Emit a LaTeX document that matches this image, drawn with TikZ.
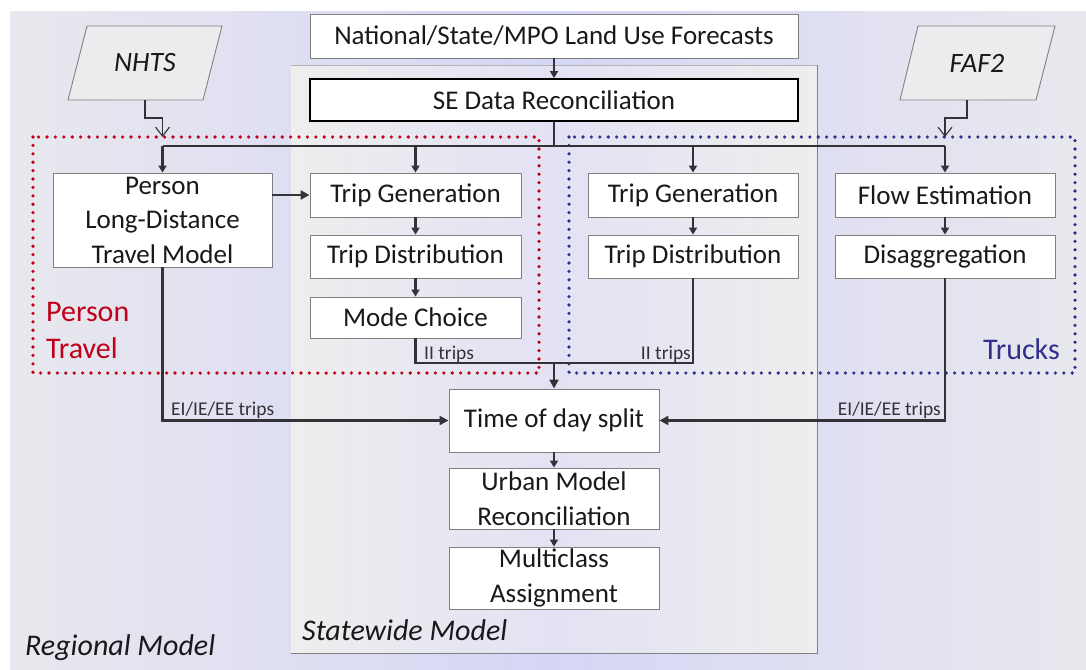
\documentclass[tikz,border=0pt]{standalone}
\usepackage{fontspec}
\setmainfont{Carlito}
\usetikzlibrary{arrows.meta,calc}
\definecolor{rgray}{RGB}{232,232,238}
\definecolor{rlav}{RGB}{214,214,246}
\definecolor{sgray}{RGB}{238,238,238}
\definecolor{slav}{RGB}{226,226,244}
\definecolor{boxgray}{RGB}{128,128,128}
\definecolor{linec}{RGB}{50,50,55}
\definecolor{txt}{RGB}{25,25,25}
\definecolor{pred}{RGB}{192,0,24}
\definecolor{tblue}{RGB}{48,48,140}
\definecolor{paragray}{RGB}{236,236,238}
\tikzset{
  box/.style={draw=boxgray, fill=white, line width=0.9pt, inner sep=0pt, align=center,
    text=txt, font=\fontsize{27}{34.5}\selectfont},
  conn/.style={draw=linec, line width=2.2pt},
  arr/.style={conn, -{Triangle[length=9pt,width=9pt]}},
  sarr/.style={conn, -{Triangle[length=7pt,width=8pt]}},
  vee/.style={draw=linec, line width=1.1pt, -{Straight Barb[length=9pt,width=14pt]}},
  lbl/.style={font=\fontsize{19.5}{21}\selectfont, inner sep=1pt, text=linec},
  dotrect/.style={line width=3.6pt, line cap=round, dash pattern=on 0pt off 8.4pt},
  para/.style={draw=boxgray, fill=paragray, line width=0.9pt}
}
\begin{document}
\begin{tikzpicture}[x=1pt,y=-1pt]
\useasboundingbox (0,0) rectangle (1086,669);
\fill[white] (0,0) rectangle (1086,669);
% regional background
\shade[left color=rgray, right color=rgray, middle color=rlav] (10,12) rectangle (1086,669);
% statewide background
\shade[left color=sgray, right color=sgray, middle color=slav] (291,65) rectangle (817,653);
\draw[boxgray!60, line width=0.8pt] (291,65) -- (817,65);
\draw[boxgray, line width=1pt] (817,65) -- (817,653) -- (291,653);

% dotted groups
\draw[dotrect, pred] (33,137) rectangle (539,373);
\draw[dotrect, tblue] (569,137) rectangle (1075,373);

% parallelograms
\draw[para] (87,26) -- (222,26) -- (203,100) -- (68,100) -- cycle;
\node[font=\fontsize{28}{30}\selectfont\itshape, text=txt, minimum width=135, minimum height=74, inner sep=0] (nhts) at (145,63) {NHTS};
\draw[para] (918,26) -- (1055,26) -- (1036,100) -- (900,100) -- cycle;
\node[font=\fontsize{28}{30}\selectfont\itshape, text=txt, minimum width=135, minimum height=74, inner sep=0] (faf) at (977,63) {FAF2};

% top boxes
\node[box, minimum width=488, minimum height=44] (nat) at (554,36) {National/State/MPO Land Use Forecasts};
\node[box, draw=black, line width=1.8pt, minimum width=488, minimum height=42] (se) at (554,100) {SE Data Reconciliation};

% person travel
\node[box, minimum width=219, minimum height=94] (ldt) at (162.5,220) {Person\\Long-Distance\\Travel Model};
\node[box, minimum width=211, minimum height=44] (tg1) at (415.5,195) {Trip Generation};
\node[box, minimum width=211, minimum height=43] (td1) at (415.5,256.5) {Trip Distribution};
\node[box, minimum width=211, minimum height=41] (mc) at (415.5,317.5) {Mode Choice};

% trucks
\node[box, minimum width=210, minimum height=44] (tg2) at (693,195) {Trip Generation};
\node[box, minimum width=210, minimum height=43] (td2) at (693,256.5) {Trip Distribution};
\node[box, minimum width=220, minimum height=44] (fe) at (945,195) {Flow Estimation};
\node[box, minimum width=220, minimum height=43] (dis) at (945,256.5) {Disaggregation};

% lower chain
\node[box, minimum width=210, minimum height=63] (tod) at (554,420.5) {Time of day split};
\node[box, minimum width=210, minimum height=61] (umr) at (554,498.5) {Urban Model\\Reconciliation};
\node[box, minimum width=210, minimum height=62] (mca) at (554,578) {Multiclass\\Assignment};

% labels
\node[font=\fontsize{30}{34}\selectfont, text=pred, anchor=west, inner sep=0] (lp1) at (46,312) {Person};
\node[font=\fontsize{30}{34}\selectfont, text=pred, anchor=west, inner sep=0] (lp2) at (46,348) {Travel};
\node[font=\fontsize{30}{34}\selectfont, text=tblue, anchor=east, inner sep=0] (lt) at (1060,349) {Trucks};
\node[font=\fontsize{30}{34}\selectfont\itshape, text=txt, anchor=west, inner sep=0] (lsw) at (302,630) {Statewide Model};
\node[font=\fontsize{30}{34}\selectfont\itshape, text=txt, anchor=west, inner sep=0] (lrm) at (25,648) {Regional Model};

% connectors
\draw[sarr] (nat.south) -- (se.north);
\coordinate (hub) at (554,146);
\coordinate (dl) at (162.5,146);
\coordinate (dr) at (945,146);
\draw[conn] (se.south) -- (hub);
\draw[conn] (dl) -- (dr);
\draw[sarr] (dl) -- (ldt.north);
\draw[sarr] (tg1.north |- hub) -- (tg1.north);
\draw[sarr] (tg2.north |- hub) -- (tg2.north);
\draw[sarr] (dr) -- (fe.north);

\coordinate (inl) at (162.5,137);
\coordinate (inr) at (945,137);
\draw[vee] (145,100) |- (154,118) -| (inl);
\draw[vee] (967,100) |- (956,118) -| (inr);

\draw[arr] (ldt.east |- tg1.west) -- (tg1.west);
\draw[sarr] (tg1) -- (td1);
\draw[sarr] (td1) -- (mc);
\draw[sarr] (tg2) -- (td2);
\draw[sarr] (fe) -- (dis);

\coordinate (mrg) at (554,363);
\draw[conn] (mc.south) |- (mrg);
\draw[conn] (td2.south) |- (mrg);
\draw[arr] (mrg) -- (tod.north);
\draw[arr] (ldt.south) |- (tod.west);
\draw[arr] (dis.south) |- (tod.east);
\draw[sarr] (tod) -- (umr);
\draw[sarr] (umr) -- (mca);

\node[lbl, anchor=south west] (ii1) at (423,364) {II trips};
\node[lbl, anchor=south east] (ii2) at (692,364) {II trips};
\node[lbl, anchor=south west] (ei1) at (170,420) {EI/IE/EE trips};
\node[lbl, anchor=south east] (ei2) at (942,420) {EI/IE/EE trips};
\end{tikzpicture}
\end{document}
